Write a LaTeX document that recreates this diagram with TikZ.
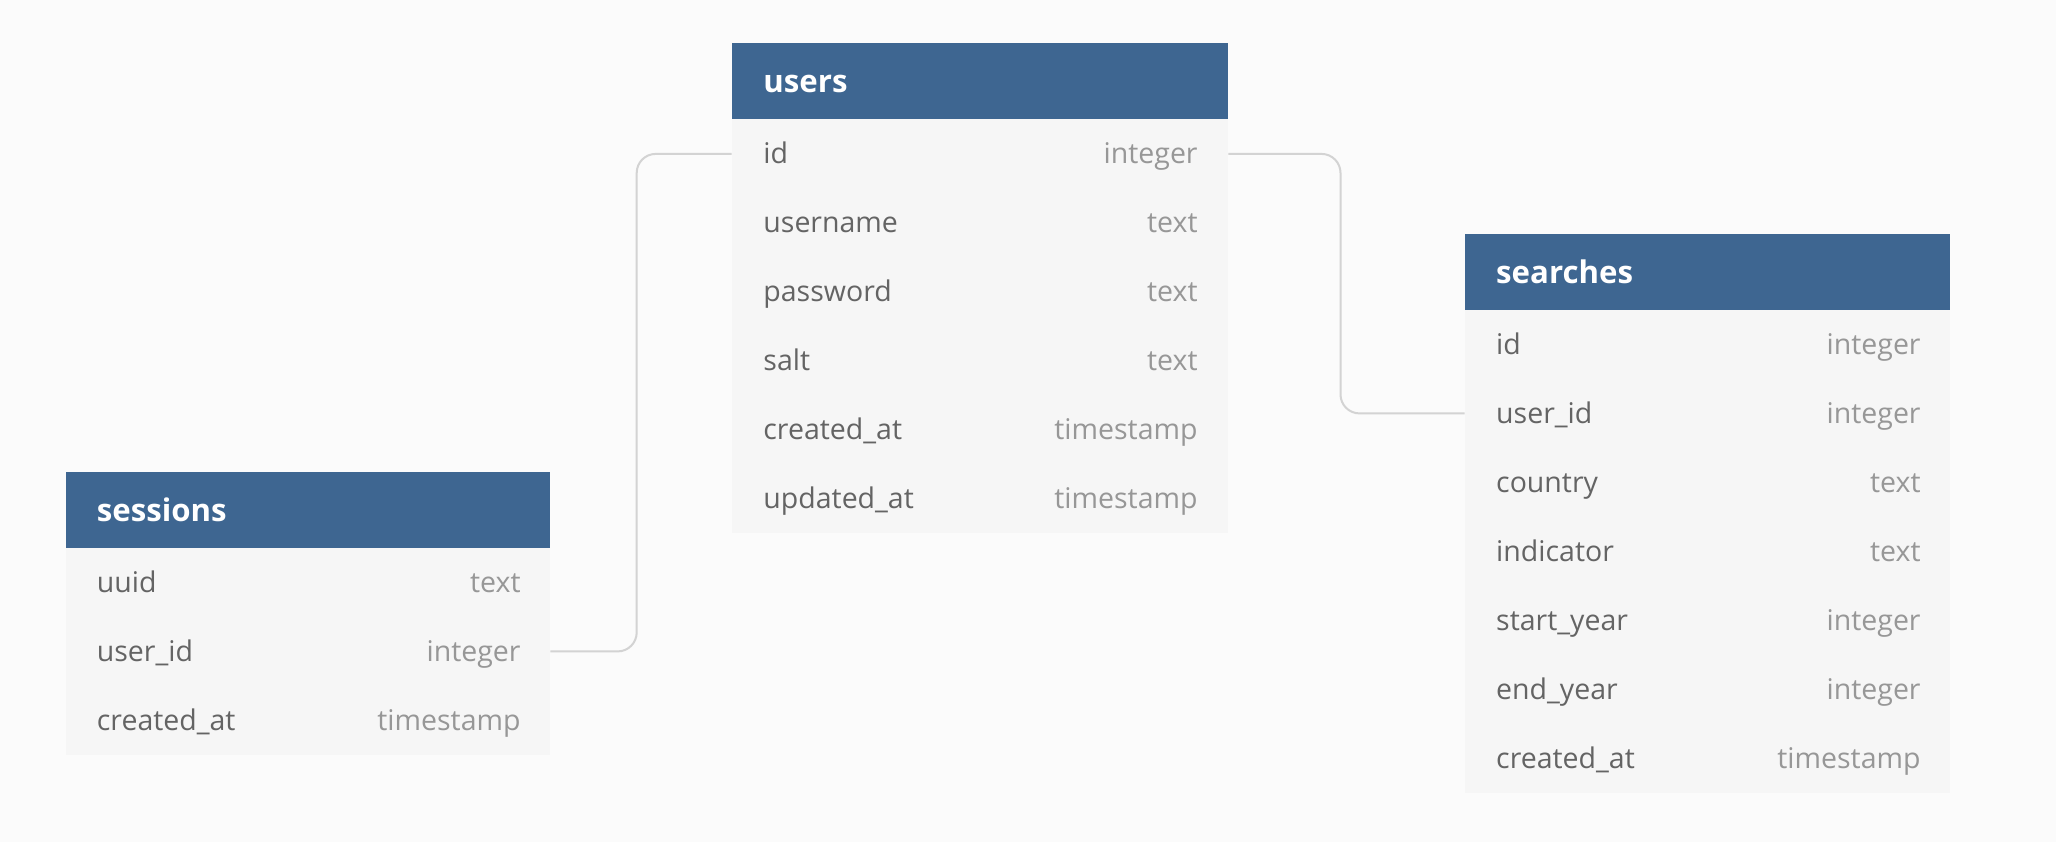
\documentclass[tikz,border=0pt]{standalone}
\usepackage{fontspec}
\setmainfont{Open Sans}
\usetikzlibrary{calc}
\definecolor{bgc}{HTML}{FBFBFB}
\definecolor{hdrc}{HTML}{3E6691}
\definecolor{rowc}{HTML}{F6F6F6}
\definecolor{namec}{HTML}{646464}
\definecolor{typec}{HTML}{979797}
\definecolor{linec}{HTML}{D3D3D3}
\tikzset{
  hdrbox/.style={fill=hdrc, draw=none, inner sep=0pt, minimum height=38pt, anchor=north west},
  hdrtxt/.style={text=white, inner sep=0pt, anchor=base west, font=\fontsize{15.6pt}{18pt}\selectfont\bfseries},
  rowbox/.style={fill=rowc, draw=none, inner sep=0pt, minimum height=34.5pt, anchor=north west},
  colname/.style={text=namec, inner sep=0pt, anchor=base west, font=\fontsize{14.25pt}{16pt}\selectfont},
  coltype/.style={text=typec, inner sep=0pt, anchor=base east, font=\fontsize{14.25pt}{16pt}\selectfont},
  conn/.style={draw=linec, line width=1pt, rounded corners=9.5pt}
}
\begin{document}
\begin{tikzpicture}[x=0.5pt, y=-0.5pt]
\fill[bgc] (0,0) rectangle (2056,842);
\useasboundingbox (0,0) rectangle (2056,842);

% users table
\node[hdrbox, minimum width=248pt] (users) at (731.5,43) {};
\node[hdrtxt] (users-title) at (763,92.7) {users};
\foreach \n/\t [count=\i from 0] in {id/integer, username/text, password/text, salt/text, created\_at/timestamp, updated\_at/timestamp} {
  \node[rowbox, minimum width=248pt] (users-\i) at (731.5,119+69*\i) {};
  \node[colname] (users-\i-n) at (763,163.7+69*\i) {\n};
  \node[coltype] (users-\i-t) at (1198,163.7+69*\i) {\t};
}

% sessions table
\node[hdrbox, minimum width=242pt] (sessions) at (65.5,471.5) {};
\node[hdrtxt] (sessions-title) at (96.5,521.2) {sessions};
\foreach \n/\t [count=\i from 0] in {uuid/text, user\_id/integer, created\_at/timestamp} {
  \node[rowbox, minimum width=242pt] (sessions-\i) at (65.5,547.5+69*\i) {};
  \node[colname] (sessions-\i-n) at (96.5,592.2+69*\i) {\n};
  \node[coltype] (sessions-\i-t) at (521,592.2+69*\i) {\t};
}

% searches table
\node[hdrbox, minimum width=242.6pt] (searches) at (1464.7,233.5) {};
\node[hdrtxt] (searches-title) at (1495.8,283.2) {searches};
\foreach \n/\t [count=\i from 0] in {id/integer, user\_id/integer, country/text, indicator/text, start\_year/integer, end\_year/integer, created\_at/timestamp} {
  \node[rowbox, minimum width=242.6pt] (searches-\i) at (1464.7,309.5+69*\i) {};
  \node[colname] (searches-\i-n) at (1495.8,354.2+69*\i) {\n};
  \node[coltype] (searches-\i-t) at (1921,354.2+69*\i) {\t};
}

% connectors
\coordinate (lj) at (636.7,0);
\coordinate (rj) at (1340.5,0);
\draw[conn] (users-0.west) -| (lj |- sessions-1.east) -- (sessions-1.east);
\draw[conn] (users-0.east) -| (rj |- searches-1.west) -- (searches-1.west);
\end{tikzpicture}
\end{document}
